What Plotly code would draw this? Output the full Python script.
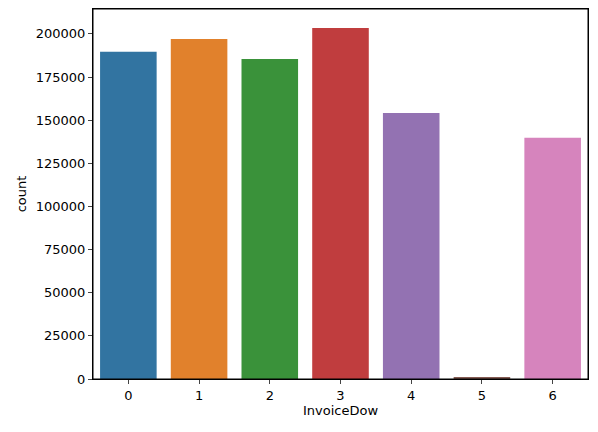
import plotly.graph_objects as go

days = [0, 1, 2, 3, 4, 5, 6]
counts = [189600, 197000, 185400, 203400, 154200, 600, 139800]
colors = ["#3274a1", "#e1812c", "#3a923a", "#c03d3e", "#9372b2", "#845b53", "#d684bd"]

fig = go.Figure(go.Bar(x=days, y=counts, marker_color=colors, marker_line_width=0, width=0.8))
fig.update_layout(
    width=598, height=432, plot_bgcolor="white", paper_bgcolor="white",
    margin=dict(l=85, r=18, t=1, b=61, pad=0), showlegend=False,
    font=dict(family="DejaVu Sans", size=13, color="black"),
    shapes=[dict(type="rect", xref="paper", yref="paper", x0=0, x1=1, y0=0, y1=1,
                 line=dict(color="black", width=1), layer="above")],
)
fig.update_xaxes(range=[-0.5, 6.5], tickvals=days, showline=True, linecolor="black", mirror=True,
                 ticks="outside", ticklen=4, title_text="InvoiceDow", title_standoff=4,
                 tickfont=dict(size=13), title_font=dict(size=13))
fig.update_yaxes(range=[0, 214450], tickvals=list(range(0, 200001, 25000)), tickformat="d",
                 showgrid=False, zeroline=False,
                 showline=True, linecolor="black", mirror=True, ticks="outside", ticklen=4,
                 title_text="count", title_standoff=6, tickfont=dict(size=13), title_font=dict(size=13))
fig.write_html("out.html")
